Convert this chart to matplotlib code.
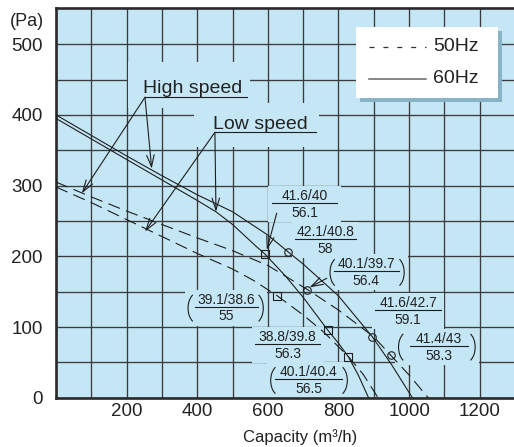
import matplotlib
matplotlib.use('Agg')
import matplotlib.pyplot as plt
from matplotlib.patches import Rectangle, Arc

plt.rcParams['font.family'] = ['Liberation Sans', 'DejaVu Sans']
plt.rcParams['lines.scale_dashes'] = False

# ---------------- data ----------------
# 60 Hz, high speed (solid)
hi60_x = [0, 100, 200, 300, 400, 500, 600, 658, 700, 800, 896, 950, 1009]
hi60_y = [400, 371, 342, 314, 287, 263, 230, 206, 189, 144, 86, 47, 0]
# 60 Hz, low speed (solid)
lo60_x = [0, 100, 200, 300, 400, 453, 500, 567, 592, 650, 700, 769, 800, 828, 857, 885]
lo60_y = [395, 366, 337, 308, 279, 263, 245, 214, 203, 172, 142, 96, 77, 58, 31, 0]
# 50 Hz, high speed (dashed)
hi50_x = [0, 100, 200, 300, 400, 500, 600, 712, 800, 900, 948, 1000, 1054]
hi50_y = [305, 284, 264, 245, 226, 208, 187, 153, 124, 86, 60, 32, 0]
# 50 Hz, low speed (dashed)
lo50_x = [0, 100, 200, 300, 400, 500, 559, 627, 700, 760, 828, 870, 912]
lo50_y = [298, 276, 252, 228, 204, 182, 166, 144, 117, 92, 58, 33, 0]

# operating points
hi60_mk_x = [658, 896]; hi60_mk_y = [206, 86]
lo60_mk_x = [592, 769]; lo60_mk_y = [203, 96]
hi50_mk_x = [712, 948]; hi50_mk_y = [153, 60]
lo50_mk_x = [627, 828]; lo50_mk_y = [144, 58]

# point labels: numerator (dB 50/60), denominator (W)
pt_nums = ['41.6/40', '42.1/40.8', '40.1/39.7', '39.1/38.6', '41.6/42.7', '38.8/39.8', '41.4/43', '40.1/40.4']
pt_dens = ['56.1', '58', '56.4', '55', '59.1', '56.3', '58.3', '56.5']
pt_paren = [False, False, True, True, False, False, True, True]

x_ticks = list(range(0, 1300, 100))
x_tick_labels = ['', '', '200', '', '400', '', '600', '', '800', '', '1000', '', '1200']
y_ticks = list(range(0, 550, 50))
y_tick_labels = ['0', '', '100', '', '200', '', '300', '', '400', '', '500']

legend_labels = ['50Hz', '60Hz']
speed_labels = ['High speed', 'Low speed']

# ---------------- styling ----------------
BG = '#c4e6f5'
INK = '#1e1e1e'
GRID = '#3c3c3c'
DASH = (9.0, 4.6)

fig = plt.figure(figsize=(5.14, 4.47), dpi=100)
ax = fig.add_axes([56 / 514, 49.3 / 447, 458 / 514, 389.4 / 447])
ax.set_xlim(0, 1297)
ax.set_ylim(0, 550.8)
ax.set_facecolor(BG)
ax.set_axisbelow(True)

ax.set_xticks(x_ticks)
ax.set_xticklabels(x_tick_labels)
ax.set_yticks(y_ticks)
ax.set_yticklabels(y_tick_labels)
ax.tick_params(length=0, labelsize=13.5, colors='#222222')
ax.tick_params(axis='x', pad=4.0)
ax.tick_params(axis='y', pad=9.5)
ax.grid(True, color=GRID, lw=0.95)
for s in ['left', 'bottom', 'top']:
    ax.spines[s].set_linewidth(1.9)
    ax.spines[s].set_color('#2a2a2a')
ax.spines['right'].set_visible(False)

# curves
ax.plot(hi60_x, hi60_y, color=INK, lw=0.8, zorder=3)
ax.plot(lo60_x, lo60_y, color=INK, lw=0.8, zorder=3)
ax.plot(hi50_x, hi50_y, color=INK, lw=0.8, zorder=3, dashes=DASH)
ax.plot(lo50_x, lo50_y, color=INK, lw=0.8, zorder=3, dashes=DASH)

mk = dict(ls='none', mfc='none', mec=INK, mew=0.8, ms=5.4, zorder=4)
ax.plot(hi60_mk_x, hi60_mk_y, marker='o', **mk)
ax.plot(hi50_mk_x, hi50_mk_y, marker='o', **mk)
ax.plot(lo60_mk_x, lo60_mk_y, marker='s', **mk)
ax.plot(lo50_mk_x, lo50_mk_y, marker='s', **mk)

AP = dict(arrowstyle='->,head_length=0.85,head_width=0.27', lw=0.8, color=INK,
          shrinkA=0, shrinkB=0)


def arrow(x0, y0, x1, y1):
    ax.annotate('', xy=(x1, y1), xytext=(x0, y0), arrowprops=AP, zorder=4)


# speed labels
ax.add_patch(Rectangle((204, 409.5), 346, 65, fc=BG, ec='none', zorder=1))
ax.text(246, 430.6, speed_labels[0], fontsize=14, ha='left', va='baseline', color='#222222', zorder=5)
ax.plot([252, 541], [424.9, 424.9], color=INK, lw=0.8, zorder=4)
arrow(252, 424.9, 73, 289)
arrow(252, 424.9, 271, 324)

ax.add_patch(Rectangle((391, 354.6), 354, 62, fc=BG, ec='none', zorder=1))
ax.text(445, 380.1, speed_labels[1], fontsize=14, ha='left', va='baseline', color='#222222', zorder=5)
ax.plot([450, 736], [375.4, 375.4], color=INK, lw=0.8, zorder=4)
arrow(450, 375.4, 252, 235)
arrow(450, 375.4, 453, 263)

# point label layout: (x centre, fraction line y, half width, left paren x, right paren x)
layout = [
    (704, 275.8, 93, None, None),
    (763, 224.0, 86, None, None),
    (879, 179.2, 93, 776, 986),
    (483, 128.7, 89, 374, 587),
    (997, 124.0, 93, None, None),
    (656, 76.0, 92, None, None),
    (1085, 73.5, 83, 970, 1187),
    (715, 26.4, 94, 608, 825),
]

PW, PH = 53, 43
for (xc, yl, hw, pl, pr), num, den, par in zip(layout, pt_nums, pt_dens, pt_paren):
    x0 = (pl if par else xc - hw) - 10
    x1 = (pr if par else xc + hw) + 10
    ax.add_patch(Rectangle((x0, yl - 27), x1 - x0, 51, fc=BG, ec='none', zorder=1))
    ax.plot([xc - hw, xc + hw], [yl, yl], color=INK, lw=0.8, zorder=4)
    ax.text(xc, yl + 4.5, num, ha='center', va='baseline', fontsize=10, color='#222222', zorder=5)
    ax.text(xc, yl - 19.5, den, ha='center', va='baseline', fontsize=10, color='#222222', zorder=5)
    if par:
        yc = yl - 2
        ax.add_patch(Arc((pl + PW / 2, yc), PW, PH, theta1=125, theta2=235, color=INK, lw=0.8, zorder=4))
        ax.add_patch(Arc((pr - PW / 2, yc), PW, PH, theta1=-55, theta2=55, color=INK, lw=0.8, zorder=4))

arrow(625, 261, 597, 209)
arrow(767, 169, 718, 156)

# legend (manual box with shadow)
ax.add_patch(Rectangle((861, 418.3), 403, 100.4, fc='#88b2c6', ec='none', zorder=6))
ax.add_patch(Rectangle((850, 424), 403, 100.4, fc='white', ec='none', zorder=7))
ax.plot([887, 1048], [496.5, 496.5], color='#333333', lw=0.9, dashes=(3.6, 6.4), zorder=8)
ax.plot([887, 1048], [450.8, 450.8], color='#666666', lw=1.1, zorder=8)
ax.text(1067, 496.5, legend_labels[0], fontsize=14, va='center', ha='left', color='#222222', zorder=8)
ax.text(1067, 450.8, legend_labels[1], fontsize=14, va='center', ha='left', color='#222222', zorder=8)

# axis titles
fig.text(26.5 / 514, 1 - 21 / 447, '(Pa)', fontsize=13, ha='center', va='center', color='#222222')
fig.text(300 / 514, 1 - 437 / 447, 'Capacity (m³/h)', fontsize=12, ha='center', va='center', color='#222222')

fig.savefig('out.png', dpi=100, facecolor='white')
